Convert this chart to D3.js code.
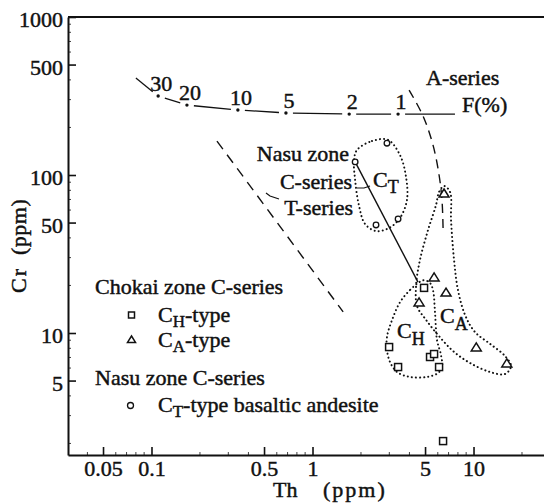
<!DOCTYPE html>
<html>
<head>
<meta charset="utf-8">
<script src="https://cdn.jsdelivr.net/npm/d3@7"></script>
<style>
  body { margin: 0; background: #fff; }
  svg text { font-family: "Liberation Serif", "Times New Roman", serif; fill: #111; }
</style>
</head>
<body>
<svg id="chart" width="544" height="503"></svg>
<script>
// Axis ticks
const thTicks = [0.05, 0.1, 0.5, 1, 5, 10];
const thTickLabels = ["0.05", "0.1", "0.5", "1", "5", "10"];
const crTicks = [5, 10, 50, 100, 500, 1000];
const crTickLabels = ["5", "10", "50", "100", "500", "1000"];

// Chokai zone C-series, CH-type (squares)
const chTh = [4.93, 2.99, 5.37, 5.69, 3.40, 6.11, 6.47];
const chCr = [19.3, 8.15, 7.05, 7.36, 6.09, 6.09, 2.07];
// Chokai zone C-series, CA-type (triangles)
const caTh = [6.56, 5.69, 6.75, 4.59, 10.4, 16.1];
const caCr = [75.8, 22.3, 17.9, 15.5, 8.04, 6.37];
// Nasu zone C-series, CT-type basaltic andesite (circles)
const ctTh = [1.84, 2.90, 2.48, 3.40];
const ctCr = [121, 159, 48.3, 52.7];

// Partial melting curve, F(%)
const fPercent = [30, 20, 10, 5, 2, 1];
const fTh = [0.110, 0.166, 0.344, 0.684, 1.69, 3.40];
const fCr = [316, 277, 258, 247, 243, 243];
const fStart = [0.080, 411];
const fEnd = [7.67, 243];

// Trend lines
const aSeries = [[3.98, 345], [4.86, 236], [5.60, 155], [6.11, 100], [6.37, 69.5], [6.47, 46.2]];
const tSeries = [[0.255, 164], [1.55, 13.6]];
const cSeries = [[1.84, 121], [4.52, 21.0]];

// Group outlines
const ctHull = [[1.89, 144], [2.34, 164], [2.94, 167], [3.49, 134], [3.81, 97.1], [3.86, 69.5],
  [3.49, 53.4], [2.99, 46.2], [2.48, 44.2], [2.12, 49.0], [1.94, 64.6], [1.84, 93.0], [1.81, 124]];
const caHull = [[6.56, 85.2], [7.15, 78.1], [7.25, 51.9], [7.57, 29.0], [8.01, 18.7], [8.86, 13.0],
  [10.2, 10.15], [12.7, 8.52], [15.7, 7.15], [17.1, 6.18], [15.7, 5.50], [12.7, 5.66], [9.51, 6.46],
  [7.46, 7.69], [6.02, 9.71], [5.07, 12.1], [4.46, 14.8], [4.40, 20.1], [4.65, 29.0], [5.22, 44.9],
  [5.85, 64.6], [6.11, 78.1]];
const chHull = [[4.52, 20.7], [4.03, 18.7], [3.50, 15.7], [3.12, 12.1], [2.90, 9.43], [2.90, 7.80],
  [3.03, 6.55], [3.35, 5.66], [4.03, 5.27], [5.14, 5.27], [6.02, 5.58], [6.37, 6.09], [6.28, 7.26],
  [5.93, 9.03], [5.77, 13.4], [5.60, 18.7], [5.37, 20.7], [4.93, 21.6]];

const svg = d3.select("#chart");
const ink = "#111";
const textStroke = 0.45;

const x = d3.scaleLog().domain([0.0303, 27.4]).range([68, 544]);
const y = d3.scaleLog().domain([1.69, 1000]).range([455, 17]);

// ---- axes ----
const xAxis = d3.axisBottom(x).tickValues(thTicks)
  .tickFormat((d, i) => thTickLabels[i]).tickSizeInner(-8).tickSizeOuter(0).tickPadding(5);
const gx = svg.append("g").attr("transform", "translate(0,455)").call(xAxis);
const yAxis = d3.axisLeft(y).tickValues(crTicks)
  .tickFormat((d, i) => crTickLabels[i]).tickSizeInner(-8).tickSizeOuter(0).tickPadding(5);
const gy = svg.append("g").attr("transform", "translate(68,0)").call(yAxis);

[gx, gy].forEach(g => {
  g.select(".domain").attr("stroke", ink).attr("stroke-width", 2);
  g.selectAll(".tick line").attr("stroke", ink).attr("stroke-width", 1.6);
  g.selectAll(".tick text").attr("font-size", 22).attr("fill", ink)
    .attr("stroke", ink).attr("stroke-width", textStroke)
    .style("font-family", '"Liberation Serif", serif');
});
gy.selectAll(".tick text").attr("dy", "0.45em");

// minor ticks
const minorX = [], minorY = [];
[0.01, 0.1, 1, 10, 100].forEach(dec => d3.range(2, 10).forEach(m => {
  const v = m * dec;
  if (v > x.domain()[0] && v < x.domain()[1] && !thTicks.includes(+v.toFixed(4))) minorX.push(v);
  if (v > y.domain()[0] && v < y.domain()[1] && !crTicks.includes(+v.toFixed(4))) minorY.push(v);
}));
svg.append("g").selectAll("line").data(minorX).join("line")
  .attr("x1", d => x(d)).attr("x2", d => x(d)).attr("y1", 455).attr("y2", 452)
  .attr("stroke", ink).attr("stroke-width", 0.8);
svg.append("g").selectAll("line").data(minorY).join("line")
  .attr("y1", d => y(d)).attr("y2", d => y(d)).attr("x1", 68).attr("x2", 71)
  .attr("stroke", ink).attr("stroke-width", 0.8);

// top frame line
svg.append("line").attr("x1", 68).attr("x2", 544).attr("y1", y(1000)).attr("y2", y(1000))
  .attr("stroke", ink).attr("stroke-width", 2);

// axis titles
svg.append("text").attr("x", 273).attr("y", 497).attr("font-size", 22)
  .attr("stroke", ink).attr("stroke-width", textStroke).text("Th");
svg.append("text").attr("x", 323).attr("y", 497).attr("font-size", 22).attr("letter-spacing", 2)
  .attr("stroke", ink).attr("stroke-width", textStroke).text("(ppm)");
svg.append("text").attr("transform", "translate(26,293) rotate(-90)").attr("font-size", 22)
  .attr("letter-spacing", 2).attr("stroke", ink).attr("stroke-width", textStroke).text("Cr");
svg.append("text").attr("transform", "translate(26,255) rotate(-90)").attr("font-size", 22)
  .attr("letter-spacing", 0.5).attr("stroke", ink).attr("stroke-width", textStroke).text("(ppm)");

// ---- lines ----
const line = d3.line().x(d => x(d[0])).y(d => y(d[1]));

svg.append("path").attr("d", line(tSeries)).attr("fill", "none").attr("stroke", ink)
  .attr("stroke-width", 1.4).attr("stroke-dasharray", "10 7");
svg.append("path").attr("d", line.curve(d3.curveCatmullRom)(aSeries)).attr("fill", "none")
  .attr("stroke", ink).attr("stroke-width", 1.4).attr("stroke-dasharray", "9 6");
line.curve(d3.curveLinear);
svg.append("path").attr("d", line(cSeries)).attr("fill", "none").attr("stroke", ink)
  .attr("stroke-width", 1.4);

// F(%) curve: segments broken around each marked point
const fNodes = [fStart].concat(fTh.map((t, i) => [t, fCr[i]])).concat([fEnd])
  .map(d => [x(d[0]), y(d[1])]);
const gapPx = 7;
const gF = svg.append("g");
for (let i = 0; i < fNodes.length - 1; i++) {
  const a = fNodes[i], b = fNodes[i + 1];
  const len = Math.hypot(b[0] - a[0], b[1] - a[1]);
  const ux = (b[0] - a[0]) / len, uy = (b[1] - a[1]) / len;
  const ga = i === 0 ? 0 : gapPx, gb = i + 1 === fNodes.length - 1 ? 0 : gapPx;
  gF.append("line").attr("x1", a[0] + ux * ga).attr("y1", a[1] + uy * ga)
    .attr("x2", b[0] - ux * gb).attr("y2", b[1] - uy * gb)
    .attr("stroke", ink).attr("stroke-width", 1.3);
}
gF.selectAll("circle").data(fTh).join("circle")
  .attr("cx", d => x(d)).attr("cy", (d, i) => y(fCr[i])).attr("r", 1.7).attr("fill", ink);
gF.selectAll("text").data(fPercent).join("text")
  .attr("x", (d, i) => x(fTh[i]) + 3).attr("y", (d, i) => y(fCr[i]) - 5)
  .attr("text-anchor", "middle").attr("font-size", 22)
  .attr("stroke", ink).attr("stroke-width", textStroke).text(d => d);

// ---- group outlines ----
const hullLine = d3.line().x(d => x(d[0])).y(d => y(d[1])).curve(d3.curveCatmullRomClosed.alpha(0.5));
[ctHull, caHull, chHull].forEach(h => {
  svg.append("path").attr("d", hullLine(h)).attr("fill", "none").attr("stroke", ink)
    .attr("stroke-width", 2).attr("stroke-linecap", "round").attr("stroke-dasharray", "0.1 4");
});

// ---- markers ----
const triPath = s => `M0,${-s * 0.5}L${s / 2},${s * 0.3}L${-s / 2},${s * 0.3}Z`;
function square(g, cx, cy, s) {
  g.append("rect").attr("x", cx - s / 2).attr("y", cy - s / 2).attr("width", s).attr("height", s)
    .attr("fill", "#fff").attr("stroke", ink).attr("stroke-width", 1.5);
}
function triangle(g, cx, cy, s) {
  g.append("path").attr("d", triPath(s)).attr("transform", `translate(${cx},${cy})`)
    .attr("fill", "#fff").attr("stroke", ink).attr("stroke-width", 1.5).attr("stroke-linejoin", "miter");
}
function ring(g, cx, cy, r) {
  g.append("circle").attr("cx", cx).attr("cy", cy).attr("r", r)
    .attr("fill", "#fff").attr("stroke", ink).attr("stroke-width", 1.3);
}
const gm = svg.append("g");
chTh.forEach((t, i) => square(gm, x(t), y(chCr[i]), 7));
caTh.forEach((t, i) => triangle(gm, x(t), y(caCr[i]), 10));
ctTh.forEach((t, i) => ring(gm, x(t), y(ctCr[i]), 2.8));

// ---- labels ----
function label(txt, px, py, anchor) {
  return svg.append("text").attr("x", px).attr("y", py).attr("font-size", 22)
    .attr("text-anchor", anchor || "start").attr("stroke", ink).attr("stroke-width", textStroke).text(txt);
}
function subLabel(main, sub, rest, px, py, size, subSize, shift) {
  const t = svg.append("text").attr("x", px).attr("y", py).attr("font-size", size)
    .attr("stroke", ink).attr("stroke-width", textStroke);
  t.append("tspan").text(main);
  t.append("tspan").attr("font-size", subSize).attr("dy", shift).text(sub);
  if (rest) t.append("tspan").attr("dy", -shift).text(rest);
  return t;
}

label("A-series", 426, 85);
label("F(%)", 462, 112);
label("Nasu zone", 349, 161, "end");
label("C-series", 352, 189, "end");
label("T-series", 353, 215, "end");

// leaders
svg.append("path").attr("d", "M357,188L364,188L370,186").attr("fill", "none")
  .attr("stroke", ink).attr("stroke-width", 1.2);
svg.append("path").attr("d", "M279,199L270,196L266,193").attr("fill", "none")
  .attr("stroke", ink).attr("stroke-width", 1.2);

subLabel("C", "T", null, 373, 187, 22, 18, 6);
subLabel("C", "H", null, 397, 338, 22, 18, 7);
subLabel("C", "A", null, 440, 323, 22, 18, 7);

// legend
const gl = svg.append("g");
label("Chokai zone C-series", 95, 294);
square(gl, 131.5, 315, 6);
subLabel("C", "H", "-type", 158, 322, 22, 17, 5);
triangle(gl, 131.5, 340, 8);
subLabel("C", "A", "-type", 158, 347, 22, 17, 5);
label("Nasu zone C-series", 95, 385);
ring(gl, 130.5, 405.5, 3);
subLabel("C", "T", "-type basaltic andesite", 158, 412, 22, 17, 5);
</script>
</body>
</html>
